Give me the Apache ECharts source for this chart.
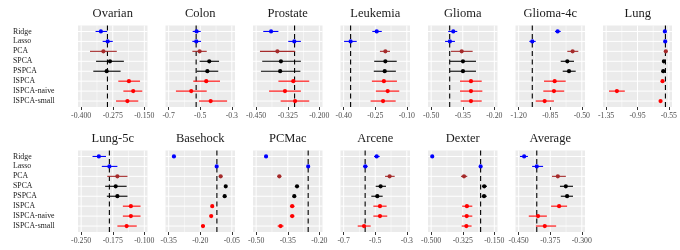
<!DOCTYPE html>
<html><head><meta charset="utf-8">
<script src="https://cdn.jsdelivr.net/npm/echarts@6/dist/echarts.min.js"></script>
<style>html,body{margin:0;padding:0;background:#fff}#c{width:680px;height:250px}</style>
</head><body><div id="c"></div>
<script>
// ---------------- data ----------------
const methods = ["Ridge","Lasso","PCA","SPCA","PSPCA","ISPCA","ISPCA-naive","ISPCA-small"];
const panelNames = ["Ovarian","Colon","Prostate","Leukemia","Glioma","Glioma-4c","Lung",
                    "Lung-5c","Basehock","PCMac","Arcene","Dexter","Average"];

const ovarianEst = [-0.322,-0.295,-0.312,-0.286,-0.299,-0.211,-0.194,-0.217];
const ovarianLo  = [-0.343,-0.315,-0.365,-0.341,-0.352,-0.253,-0.233,-0.262];
const ovarianHi  = [-0.297,-0.275,-0.259,-0.231,-0.244,-0.167,-0.158,-0.174];
const ovarianTicks = ["-0.400","-0.275","-0.150"];

const colonEst = [-0.523,-0.525,-0.504,-0.443,-0.455,-0.462,-0.557,-0.434];
const colonLo  = [-0.548,-0.550,-0.550,-0.504,-0.523,-0.544,-0.654,-0.508];
const colonHi  = [-0.497,-0.495,-0.459,-0.381,-0.386,-0.375,-0.459,-0.330];
const colonTicks = ["-0.7","-0.5","-0.3"];

const prostateEst = [-0.391,-0.299,-0.366,-0.352,-0.355,-0.303,-0.336,-0.296];
const prostateLo  = [-0.422,-0.323,-0.435,-0.426,-0.431,-0.362,-0.399,-0.353];
const prostateHi  = [-0.362,-0.273,-0.296,-0.273,-0.275,-0.240,-0.273,-0.240];
const prostateTicks = ["-0.450","-0.325","-0.200"];

const leukemiaEst = [-0.243,-0.367,-0.202,-0.202,-0.205,-0.209,-0.191,-0.213];
const leukemiaLo  = [-0.264,-0.398,-0.228,-0.255,-0.257,-0.266,-0.247,-0.272];
const leukemiaHi  = [-0.219,-0.338,-0.180,-0.148,-0.152,-0.147,-0.136,-0.153];
const leukemiaTicks = ["-0.40","-0.25","-0.10"];

const gliomaEst = [-0.395,-0.411,-0.355,-0.349,-0.349,-0.311,-0.311,-0.311];
const gliomaLo  = [-0.419,-0.434,-0.406,-0.411,-0.411,-0.363,-0.363,-0.360];
const gliomaHi  = [-0.376,-0.387,-0.303,-0.287,-0.287,-0.260,-0.257,-0.260];
const gliomaTicks = ["-0.50","-0.35","-0.20"];

const glioma4cEst = [-0.768,-1.049,-0.602,-0.661,-0.642,-0.801,-0.809,-0.912];
const glioma4cLo  = [-0.798,-1.082,-0.661,-0.734,-0.712,-0.919,-0.927,-1.011];
const glioma4cHi  = [-0.734,-1.011,-0.539,-0.587,-0.568,-0.679,-0.695,-0.809];
const glioma4cTicks = ["-1.20","-0.85","-0.50"];

const lungEst = [-0.601,-0.597,-0.589,-0.614,-0.622,-0.631,-1.213,-0.656];
const lungLo  = [-0.609,-0.605,-0.597,-0.634,-0.642,-0.648,-1.314,-0.673];
const lungHi  = [-0.593,-0.589,-0.581,-0.594,-0.602,-0.614,-1.112,-0.639];
const lungTicks = ["-1.35","-0.95","-0.55"];

const lung5cEst = [-0.208,-0.183,-0.164,-0.168,-0.164,-0.132,-0.132,-0.142];
const lung5cLo  = [-0.223,-0.201,-0.188,-0.193,-0.189,-0.151,-0.151,-0.164];
const lung5cHi  = [-0.191,-0.164,-0.140,-0.142,-0.140,-0.109,-0.109,-0.118];
const lung5cTicks = ["-0.250","-0.175","-0.100"];

const basehockEst = [-0.325,-0.122,-0.103,-0.079,-0.084,-0.143,-0.148,-0.187];
const basehockLo  = [-0.329,-0.126,-0.108,-0.083,-0.088,-0.150,-0.155,-0.195];
const basehockHi  = [-0.321,-0.118,-0.098,-0.075,-0.080,-0.136,-0.141,-0.179];
const basehockTicks = ["-0.35","-0.20","-0.05"];

const pcmacEst = [-0.453,-0.253,-0.390,-0.306,-0.319,-0.329,-0.329,-0.384];
const pcmacLo  = [-0.457,-0.257,-0.399,-0.313,-0.324,-0.340,-0.340,-0.398];
const pcmacHi  = [-0.449,-0.249,-0.381,-0.299,-0.314,-0.318,-0.318,-0.370];
const pcmacTicks = ["-0.50","-0.35","-0.20"];

const arceneEst = [-0.491,-0.563,-0.409,-0.466,-0.487,-0.470,-0.470,-0.571];
const arceneLo  = [-0.508,-0.578,-0.438,-0.497,-0.525,-0.512,-0.512,-0.611];
const arceneHi  = [-0.472,-0.548,-0.377,-0.432,-0.453,-0.428,-0.424,-0.529];
const arceneTicks = ["-0.7","-0.5","-0.3"];

const dexterEst = [-0.494,-0.226,-0.318,-0.206,-0.207,-0.302,-0.303,-0.305];
const dexterLo  = [-0.497,-0.229,-0.335,-0.219,-0.220,-0.328,-0.329,-0.331];
const dexterHi  = [-0.491,-0.223,-0.300,-0.191,-0.192,-0.272,-0.272,-0.276];
const dexterTicks = ["-0.500","-0.325","-0.150"];

const averageEst = [-0.437,-0.407,-0.357,-0.338,-0.335,-0.354,-0.404,-0.388];
const averageLo  = [-0.447,-0.418,-0.371,-0.352,-0.350,-0.373,-0.426,-0.409];
const averageHi  = [-0.428,-0.392,-0.338,-0.321,-0.321,-0.335,-0.383,-0.361];
const averageTicks = ["-0.450","-0.375","-0.300"];

// dashed reference line (Lasso level) per panel
const refLines = [-0.296,-0.526,-0.298,-0.367,-0.412,-1.049,-0.594,
                  -0.183,-0.121,-0.253,-0.564,-0.226,-0.407];

// ---------------- styling / layout ----------------
const methodColors = ["#0000FF","#0000FF","#A52A2A","#000000","#000000","#FF0000","#FF0000","#FF0000"];
const FONT = "'Liberation Serif','DejaVu Serif',serif";
const colLeft = [78, 165.5, 253, 340.5, 428, 515.5, 603];
const rowTop = [25.5, 150.5];
const titleTop = [7, 132];
const PW = 69.5, PH = 81.5;

const panels = [
  [ovarianEst, ovarianLo, ovarianHi, ovarianTicks],
  [colonEst, colonLo, colonHi, colonTicks],
  [prostateEst, prostateLo, prostateHi, prostateTicks],
  [leukemiaEst, leukemiaLo, leukemiaHi, leukemiaTicks],
  [gliomaEst, gliomaLo, gliomaHi, gliomaTicks],
  [glioma4cEst, glioma4cLo, glioma4cHi, glioma4cTicks],
  [lungEst, lungLo, lungHi, lungTicks],
  [lung5cEst, lung5cLo, lung5cHi, lung5cTicks],
  [basehockEst, basehockLo, basehockHi, basehockTicks],
  [pcmacEst, pcmacLo, pcmacHi, pcmacTicks],
  [arceneEst, arceneLo, arceneHi, arceneTicks],
  [dexterEst, dexterLo, dexterHi, dexterTicks],
  [averageEst, averageLo, averageHi, averageTicks]
];

const grids = [], xAxes = [], yAxes = [], titles = [], series = [];
const rowVals = methods.map((m, i) => i + 1);

panels.forEach((pd, p) => {
  const [est, lo, hi, ticks] = pd;
  const col = p % 7, row = Math.floor(p / 7);
  const tv = ticks.map(Number);
  const D = tv[2] - tv[0];
  const xmin = tv[0] - 0.05 * D, xmax = tv[2] + 0.05 * D;
  const left = colLeft[col], top = rowTop[row];

  grids.push({left: left, top: top, width: PW, height: PH, show: true,
              backgroundColor: '#EBEBEB', borderWidth: 0});
  titles.push({text: panelNames[p], left: left + PW / 2, top: titleTop[row], textAlign: 'center', padding: 0,
               textStyle: {fontFamily: FONT, fontSize: 12.5, fontWeight: 'normal', color: '#1A1A1A'}});
  xAxes.push({gridIndex: p, type: 'value', min: xmin, max: xmax,
    axisLine: {show: false},
    axisTick: {show: true, length: 3, customValues: tv, lineStyle: {color: '#333333', width: 1}},
    axisLabel: {customValues: tv, margin: 5, fontFamily: FONT, fontSize: 7.8, color: '#4D4D4D',
                formatter: (v) => { let b = 0; tv.forEach((t, k) => { if (Math.abs(t - v) < Math.abs(tv[b] - v)) b = k; }); return ticks[b]; }},
    splitLine: {show: false}});
  yAxes.push({gridIndex: p, type: 'value', min: 0.4, max: 8.6, inverse: true,
    axisLine: {show: false},
    axisTick: {show: false},
    axisLabel: {show: col === 0, customValues: rowVals, align: 'left', margin: 65,
                fontFamily: FONT, fontSize: 7.8, color: '#1A1A1A',
                formatter: (v) => methods[Math.round(v) - 1]},
    splitLine: {show: false}});

  // grid lines: [x, y, kind] kind 0 major vertical, 1 minor vertical, 2 horizontal
  const gridItems = [];
  tv.forEach(t => gridItems.push([t, 1, 0]));
  gridItems.push([tv[0] + D / 4, 1, 1]);
  gridItems.push([tv[0] + 3 * D / 4, 1, 1]);
  rowVals.forEach(r => gridItems.push([xmin, r, 2]));
  series.push({type: 'custom', xAxisIndex: p, yAxisIndex: p, z: 1, silent: true, animation: false,
    encode: {x: 0, y: 1}, data: gridItems,
    renderItem: (params, api) => {
      const cs = params.coordSys; const kind = api.value(2);
      if (kind < 2) {
        const px = api.coord([api.value(0), 1])[0];
        return {type: 'line', shape: {x1: px, y1: cs.y, x2: px, y2: cs.y + cs.height},
                style: {stroke: '#FFFFFF', lineWidth: kind === 0 ? 1 : 0.5}};
      }
      const py = api.coord([api.value(0), api.value(1)])[1];
      return {type: 'line', shape: {x1: cs.x, y1: py, x2: cs.x + cs.width, y2: py},
              style: {stroke: '#FFFFFF', lineWidth: 1}};
    }});

  // dashed reference line
  series.push({type: 'custom', xAxisIndex: p, yAxisIndex: p, z: 2, silent: true, animation: false,
    encode: {x: 0, y: 1}, data: [[refLines[p], 1]],
    renderItem: (params, api) => {
      const cs = params.coordSys;
      const px = api.coord([api.value(0), 1])[0];
      return {type: 'line', shape: {x1: px, y1: cs.y, x2: px, y2: cs.y + cs.height},
              style: {stroke: '#000000', lineWidth: 1.1, lineDash: [5, 3.5]}};
    }});

  // point ranges
  series.push({type: 'custom', xAxisIndex: p, yAxisIndex: p, z: 3, silent: true, animation: false,
    encode: {x: [0, 2, 3], y: 1},
    data: methods.map((m, i) => [est[i], i + 1, lo[i], hi[i], i]),
    renderItem: (params, api) => {
      const c = methodColors[api.value(4)];
      const pt = api.coord([api.value(0), api.value(1)]);
      const a = api.coord([api.value(2), api.value(1)]);
      const b = api.coord([api.value(3), api.value(1)]);
      return {type: 'group', children: [
        {type: 'line', shape: {x1: a[0], y1: a[1], x2: b[0], y2: b[1]}, style: {stroke: c, lineWidth: 1.1}},
        {type: 'circle', shape: {cx: pt[0], cy: pt[1], r: 2.1}, style: {fill: c}}
      ]};
    }});
});

const chart = echarts.init(document.getElementById('c'), null, {renderer: 'canvas'});
chart.setOption({animation: false, backgroundColor: '#FFFFFF', title: titles,
                 grid: grids, xAxis: xAxes, yAxis: yAxes, series: series});
</script></body></html>
